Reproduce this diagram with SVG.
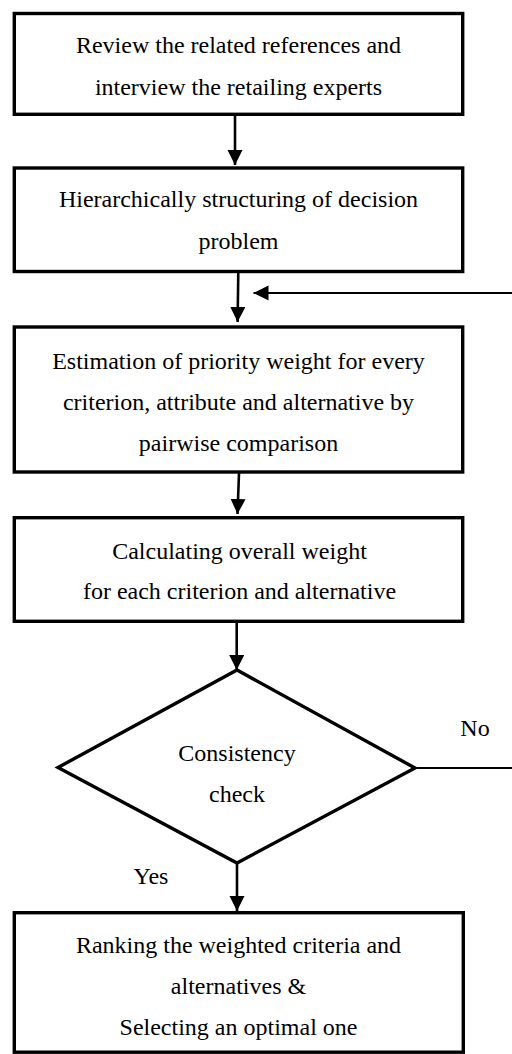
<svg xmlns="http://www.w3.org/2000/svg" width="512" height="1054" viewBox="0 0 512 1054">
<style>
.box{fill:#fff;stroke:#000;stroke-width:3.4}
.dia{fill:#fff;stroke:#000;stroke-width:3.4;stroke-linejoin:miter}
.t{font-family:"Liberation Serif","Times New Roman",serif;font-size:24px;fill:#000;text-anchor:middle}
.ln{stroke:#000;stroke-width:2.6;fill:none}
.thin{stroke:#000;stroke-width:2;fill:none}
</style>
<defs>
<marker id="ah" markerUnits="userSpaceOnUse" markerWidth="16" markerHeight="16" refX="15" refY="7.5" orient="auto">
<path d="M0,0 L15,7.5 L0,15 Z" fill="#000"/>
</marker>
</defs>
<rect width="512" height="1054" fill="#fff"/>
<g id="connectors">
<line class="ln" x1="235" y1="116" x2="235" y2="165" marker-end="url(#ah)"/>
<line class="ln" x1="238.3" y1="272" x2="237.6" y2="322" marker-end="url(#ah)"/>
<line class="thin" x1="512" y1="293" x2="253.5" y2="293" marker-end="url(#ah)"/>
<line class="ln" x1="239" y1="473" x2="237.5" y2="514" marker-end="url(#ah)"/>
<line class="ln" x1="236.7" y1="623" x2="236.7" y2="670" marker-end="url(#ah)"/>
<line class="ln" x1="237" y1="864" x2="237" y2="911" marker-end="url(#ah)"/>
<line class="thin" x1="415" y1="768" x2="512" y2="768"/>
<text class="t" x="475" y="736">No</text>
<text class="t" x="151" y="884">Yes</text>
</g>
<g id="n1">
<rect class="box" x="14.3" y="13.5" width="448.4" height="100.8"/>
<text class="t" x="238.5" y="53.3">Review the related references and</text>
<text class="t" x="238.5" y="95">interview the retailing experts</text>
</g>
<g id="n2">
<rect class="box" x="14.3" y="168" width="448.4" height="103.5"/>
<text class="t" x="238.5" y="207.3">Hierarchically structuring of decision</text>
<text class="t" x="238.5" y="249">problem</text>
</g>
<g id="n3">
<rect class="box" x="14.3" y="327" width="448.4" height="145"/>
<text class="t" x="238.5" y="369">Estimation of priority weight for every</text>
<text class="t" x="238.5" y="409.5">criterion, attribute and alternative by</text>
<text class="t" x="238.5" y="450.5">pairwise comparison</text>
</g>
<g id="n4">
<rect class="box" x="14.3" y="517.7" width="448.4" height="103.6"/>
<text class="t" x="239.5" y="559">Calculating overall weight</text>
<text class="t" x="239.5" y="599.3">for each criterion and alternative</text>
</g>
<g id="n5">
<polygon class="dia" points="237,670 415,768 237,863 58,767.5"/>
<text class="t" x="237" y="760.7">Consistency</text>
<text class="t" x="237" y="801.7">check</text>
</g>
<g id="n6">
<rect class="box" x="14.3" y="912.7" width="449" height="139.5"/>
<text class="t" x="238.5" y="953.3">Ranking the weighted criteria and</text>
<text class="t" x="238.5" y="994">alternatives &amp;</text>
<text class="t" x="238.5" y="1035">Selecting an optimal one</text>
</g>
</svg>
